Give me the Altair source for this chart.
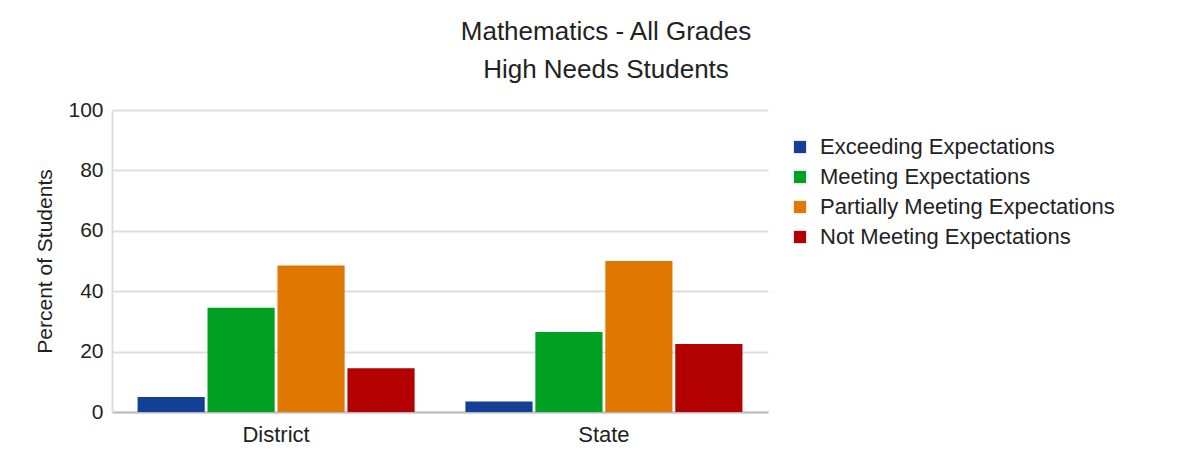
import altair as alt
import pandas as pd

groups = ["District", "State"]
levels = ["Exceeding Expectations", "Meeting Expectations",
          "Partially Meeting Expectations", "Not Meeting Expectations"]
district_vals = [5, 34.5, 48.5, 14.5]
state_vals = [3.5, 26.5, 50, 22.5]
colors = ["#143f96", "#00a023", "#e07700", "#b30000"]

rows = []
for g, vals in zip(groups, [district_vals, state_vals]):
    for lv, v in zip(levels, vals):
        rows.append({"Group": g, "Level": lv, "Value": v})
df = pd.DataFrame(rows)

font = "Liberation Sans"

chart = alt.Chart(df).mark_bar().encode(
    x=alt.X("Group:N", sort=groups,
            scale=alt.Scale(paddingInner=0.155, paddingOuter=0.078),
            axis=alt.Axis(title=None, labelAngle=0, ticks=False, labelPadding=12,
                          labelFontSize=22, labelFont=font, labelColor="#222",
                          domainColor="#bbbbbb", domainWidth=2, grid=False)),
    xOffset=alt.XOffset("Level:N", sort=levels,
                        scale=alt.Scale(paddingInner=0.04, paddingOuter=0)),
    y=alt.Y("Value:Q", scale=alt.Scale(domain=[0, 100]),
            axis=alt.Axis(title="Percent of Students", values=[0, 20, 40, 60, 80, 100],
                          ticks=False, labelPadding=9, labelFontSize=21, labelFont=font,
                          labelColor="#222", titleFont=font, titleFontSize=21,
                          titleFontWeight="normal", titleColor="#222", titlePadding=12,
                          domainColor="#dddddd", domainWidth=2,
                          gridColor="#dddddd", gridWidth=2)),
    color=alt.Color("Level:N", sort=levels,
                    scale=alt.Scale(domain=levels, range=colors),
                    legend=alt.Legend(title=None, orient="none", legendX=677, legendY=26,
                                      symbolType="square", symbolSize=150,
                                      symbolStrokeWidth=0, labelFontSize=22,
                                      labelFont=font, labelColor="#222", labelLimit=500,
                                      labelOffset=9, rowPadding=8, padding=0)),
).properties(
    width=656, height=302,
    title=alt.TitleParams(["Mathematics - All Grades", "High Needs Students"],
                          font=font, fontSize=26, fontWeight="normal", color="#222",
                          lineHeight=38, anchor="middle", frame="group", dx=166,
                          offset=16),
    autosize=alt.AutoSizeParams(type="none"),
    padding={"left": 104, "top": 102, "right": 400, "bottom": 34},
).configure_view(stroke=None)

chart.save("out.html", embed_options={"renderer": "svg", "actions": False})
